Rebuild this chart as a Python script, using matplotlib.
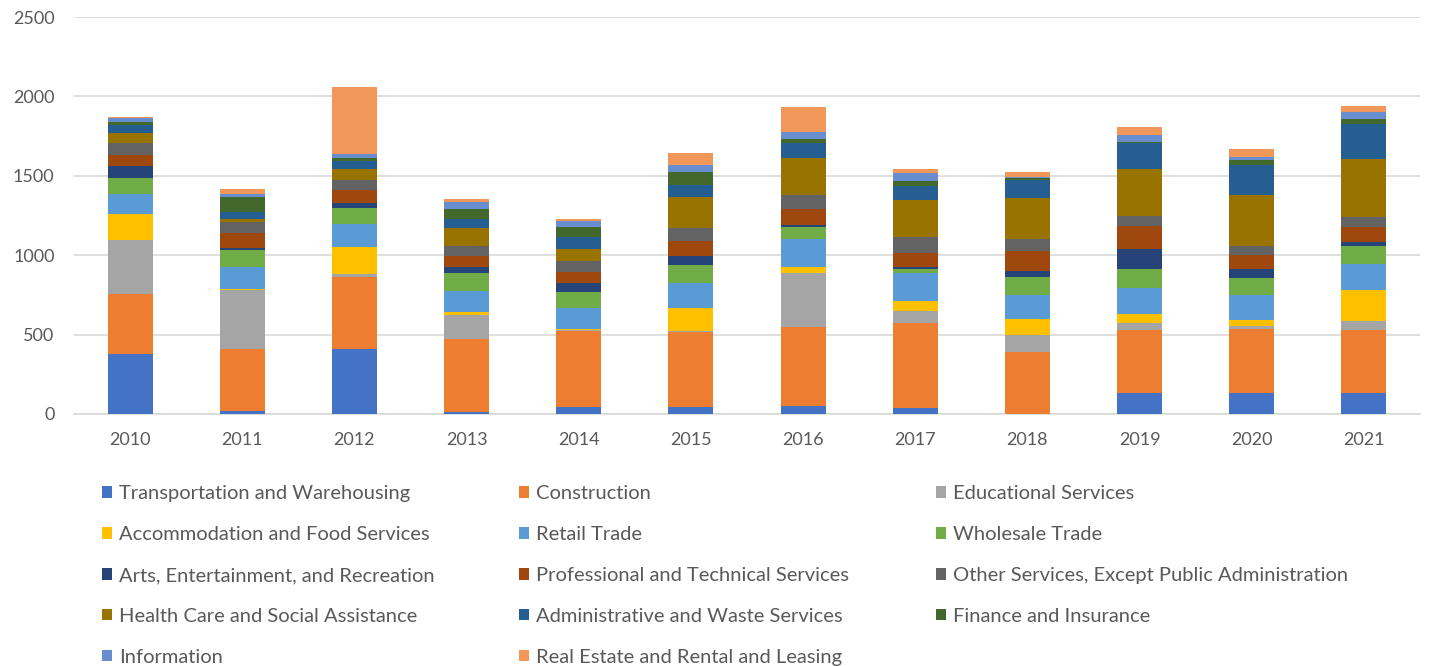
import numpy as np
import matplotlib.pyplot as plt

plt.rcParams['font.family'] = ['Lato', 'DejaVu Sans']

years = ['2010', '2011', '2012', '2013', '2014', '2015',
         '2016', '2017', '2018', '2019', '2020', '2021']

industries = [
    'Transportation and Warehousing',
    'Construction',
    'Educational Services',
    'Accommodation and Food Services',
    'Retail Trade',
    'Wholesale Trade',
    'Arts, Entertainment, and Recreation',
    'Professional and Technical Services',
    'Other Services, Except Public Administration',
    'Health Care and Social Assistance',
    'Administrative and Waste Services',
    'Finance and Insurance',
    'Information',
    'Real Estate and Rental and Leasing',
]

transportation = [380, 20, 410, 15, 46, 46, 50, 38, 0, 135, 135, 135]
construction = [373, 390, 450, 458, 475, 471, 499, 538, 390, 397, 401, 393]
educational = [345, 370, 21, 149, 8, 5, 337, 74, 106, 38, 21, 56]
accommodation = [163, 5, 169, 22, 5, 147, 42, 63, 101, 57, 32, 197]
retail = [124, 140, 147, 130, 135, 158, 173, 173, 152, 168, 158, 162]
wholesale = [101, 106, 102, 116, 99, 110, 74, 28, 112, 117, 108, 116]
arts = [76, 14, 31, 36, 55, 55, 17, 14, 42, 126, 57, 26]
professional = [72, 97, 78, 70, 72, 99, 99, 87, 122, 148, 88, 90]
other_services = [70, 64, 64, 59, 69, 78, 89, 99, 74, 63, 55, 64]
health_care = [67, 25, 69, 114, 74, 196, 234, 236, 264, 291, 321, 365]
administrative = [49, 42, 53, 59, 74, 80, 93, 87, 110, 167, 190, 221]
finance = [17, 95, 15, 63, 63, 78, 23, 29, 10, 6, 35, 30]
information = [25, 15, 31, 43, 42, 47, 47, 49, 11, 47, 17, 44]
real_estate = [6, 32, 418, 21, 11, 76, 154, 27, 27, 48, 53, 42]

series = [transportation, construction, educational, accommodation, retail,
          wholesale, arts, professional, other_services, health_care,
          administrative, finance, information, real_estate]

colors = ['#4472C4', '#ED7D31', '#A5A5A5', '#FFC000', '#5B9BD5', '#70AD47',
          '#264478', '#9E480E', '#636363', '#997300', '#255E91', '#43682B',
          '#698ED0', '#F1975A']

fig = plt.figure(figsize=(14.29, 6.66), dpi=100)
ax = fig.add_axes([74 / 1429, 1 - 414 / 666, 1346 / 1429, 397 / 666])

x = np.arange(len(years))
bottom = np.zeros(len(years))
handles = []
for name, vals, c in zip(industries, series, colors):
    vals = np.array(vals, dtype=float)
    b = ax.bar(x, vals, width=0.4, bottom=bottom, color=c, label=name,
               zorder=3)
    handles.append(b)
    bottom += vals

ax.set_xlim(-0.5, len(years) - 0.5)
ax.set_ylim(0, 2500)
ax.set_yticks(np.arange(0, 2501, 500))
ax.set_xticks(x)
ax.set_xticklabels(years)
ax.grid(axis='y', color='#D9D9D9', linewidth=1.2, zorder=0)
for s in ['top', 'right', 'left']:
    ax.spines[s].set_visible(False)
ax.spines['bottom'].set_color('#D9D9D9')
ax.spines['bottom'].set_linewidth(1.2)
ax.tick_params(length=0, labelsize=13, colors='#595959')
ax.tick_params(axis='x', pad=13)
ax.tick_params(axis='y', pad=14)

# legend in three columns, filled row by row
col_x = [102, 519, 936]
for k in range(3):
    h = handles[k::3]
    lab = industries[k::3]
    fig.legend(h, lab, loc='upper left',
               bbox_to_anchor=(col_x[k] / 1429, 1 - 485 / 666),
               frameon=False, fontsize=14.5, labelcolor='#595959',
               handlelength=0.5, handleheight=0.5, handletextpad=0.35,
               labelspacing=1.19, borderaxespad=0, borderpad=0)

fig.savefig('out.png', dpi=100)
